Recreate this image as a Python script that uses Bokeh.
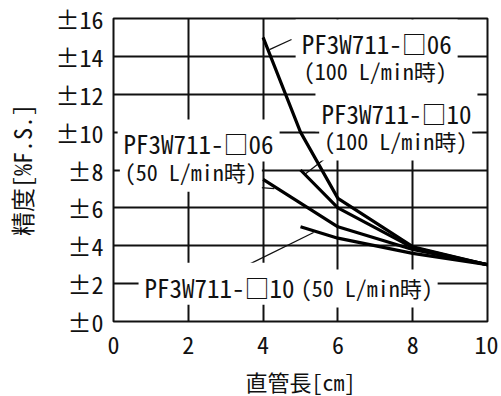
from bokeh.plotting import figure
from bokeh.models import ColumnDataSource, Range1d, FixedTicker
from bokeh.core.properties import value
from bokeh.embed import file_html
from bokeh.resources import INLINE

# ---- data ----
x_06_100 = [4, 5, 6, 8, 10]
y_06_100 = [15, 10, 6.5, 3.95, 3]
x_10_100 = [5, 6, 8, 10]
y_10_100 = [8, 6, 3.9, 3]
x_06_50 = [4, 6, 8, 10]
y_06_50 = [7.5, 5, 3.8, 3]
x_10_50 = [5, 6, 8, 10]
y_10_50 = [5, 4.4, 3.6, 3]

x_ticks = [0, 2, 4, 6, 8, 10]
y_ticks = [0, 2, 4, 6, 8, 10, 12, 14, 16]
y_tick_labels = ["±0", "±2", "±4", "±6", "±8", "±10", "±12", "±14", "±16"]

# label texts and anchor points (data units, left edge of the white box)
big_text = ["PF3W711-□06", "PF3W711-□10", "PF3W711-□06", "PF3W711-□10"]
big_x = [4.87, 5.40, 0.11, 0.67]
big_y = [14.84, 11.16, 9.56, 2.0]
small_text = ["(100 L/min時)", "(100 L/min時)", "(50 L/min時)", "(50 L/min時)"]
small_x = [4.95, 5.50, 0.17, 4.87]
small_y = [13.15, 9.5, 7.85, 1.74]

# leader lines
lead_x0 = [4.17, 5.11, 2.83, 3.50]
lead_y0 = [14.36, 7.76, 7.23, 2.90]
lead_x1 = [4.76, 5.83, 4.30, 5.35]
lead_y1 = [14.89, 8.87, 7.02, 4.70]

FONT = "Noto Sans Mono CJK JP"
INK = "#111111"

p = figure(width=497, height=395, output_backend="svg", toolbar_location=None,
           x_range=Range1d(0, 10), y_range=Range1d(0, 16),
           min_border_left=112, min_border_right=11, min_border_top=18, min_border_bottom=74)
p.frame_width = 374
p.frame_height = 303

p.outline_line_color = INK
p.outline_line_width = 2
p.outline_line_alpha = 1

for ax in (p.xaxis[0], p.yaxis[0]):
    ax.axis_line_color = None
    ax.major_tick_line_color = None
    ax.minor_tick_line_color = None
    ax.major_label_text_font = FONT
    ax.major_label_text_font_size = "24px"
    ax.major_label_text_color = INK
    ax.axis_label_text_font = FONT
    ax.axis_label_text_font_style = "normal"
    ax.axis_label_text_color = INK
p.xaxis.axis_label_text_font_size = "22px"
p.yaxis.axis_label_text_font_size = "24px"

p.xaxis.ticker = FixedTicker(ticks=x_ticks)
p.yaxis.ticker = FixedTicker(ticks=y_ticks)
p.yaxis.major_label_overrides = {t: l for t, l in zip(y_ticks, y_tick_labels)}
p.xaxis.major_label_standoff = 8
p.yaxis.major_label_standoff = 4
p.xaxis.axis_label = "直管長[cm]"
p.yaxis.axis_label = "精度[%F.S.]"
p.xaxis.axis_label_standoff = 8
p.yaxis.axis_label_standoff = 14

p.grid.grid_line_color = INK
p.grid.grid_line_width = 2
p.grid.grid_line_alpha = 1
p.xgrid.ticker = FixedTicker(ticks=x_ticks[1:-1])
p.ygrid.ticker = FixedTicker(ticks=y_ticks[1:-1])

# leader lines
p.segment(x0=lead_x0, y0=lead_y0, x1=lead_x1, y1=lead_y1, line_color=INK, line_width=1.3)

# series
for xs, ys in ((x_06_100, y_06_100), (x_10_100, y_10_100), (x_06_50, y_06_50), (x_10_50, y_10_50)):
    p.line(xs, ys, line_color="black", line_width=3.2, line_join="round")

# labels (small line first so the large line is drawn on top)
src_big = ColumnDataSource(dict(x=big_x, y=big_y, t=big_text))
src_small = ColumnDataSource(dict(x=small_x, y=small_y, t=small_text))
p.text(x="x", y="y", text="t", source=src_small, text_font=value(FONT), text_font_size="22px",
       text_baseline="middle", text_align="left", text_color=INK,
       background_fill_color="white", padding=dict(left=5, right=5, top=1, bottom=5))
p.text(x="x", y="y", text="t", source=src_big, text_font=value(FONT), text_font_size="25px",
       text_baseline="middle", text_align="left", text_color=INK,
       background_fill_color="white", padding=dict(left=6, right=6, top=6, bottom=0))

open("out.html", "w").write(file_html(p, INLINE))
